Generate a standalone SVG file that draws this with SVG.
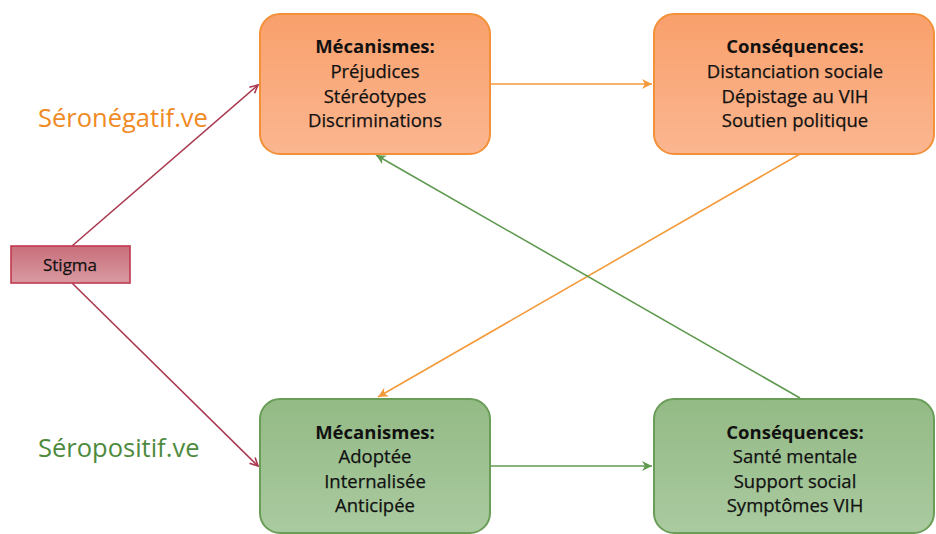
<svg xmlns="http://www.w3.org/2000/svg" width="936" height="534" viewBox="0 0 936 534">
<defs>
<linearGradient id="gOr" x1="0" y1="0" x2="0" y2="1"><stop offset="0" stop-color="#F9A06C"/><stop offset="1" stop-color="#FBB690"/></linearGradient>
<linearGradient id="gGr" x1="0" y1="0" x2="0" y2="1"><stop offset="0" stop-color="#93BA85"/><stop offset="1" stop-color="#AACAA0"/></linearGradient>
<linearGradient id="gSt" x1="0" y1="0" x2="0" y2="1"><stop offset="0" stop-color="#C86F7B"/><stop offset="1" stop-color="#D99AA1"/></linearGradient>
<marker id="aRed" markerWidth="10" markerHeight="10" refX="9" refY="5" orient="auto" markerUnits="userSpaceOnUse"><path d="M1,1 L9,5 L1,9" fill="none" stroke="#A8374F" stroke-width="1.6"/></marker>
<marker id="aOr" markerWidth="12" markerHeight="12" refX="10" refY="6" orient="auto" markerUnits="userSpaceOnUse"><path d="M0,1 L10,6 L0,11 L3,6 Z" fill="#F39A3A"/></marker>
<marker id="aGr" markerWidth="12" markerHeight="12" refX="10" refY="6" orient="auto" markerUnits="userSpaceOnUse"><path d="M0,1 L10,6 L0,11 L3,6 Z" fill="#5F9A50"/></marker>
</defs>
<style>
.or{fill:url(#gOr);stroke:#F2913A;stroke-width:2}
.gr{fill:url(#gGr);stroke:#6A9E58;stroke-width:2}
.t{font-family:"Open Sans","Liberation Sans",sans-serif;font-size:18.5px;fill:#111;text-anchor:middle;dominant-baseline:central;stroke:#111;stroke-width:0.25}
.b{font-weight:bold;stroke-width:0}
.lab{font-family:"Open Sans","Liberation Sans",sans-serif;font-size:25.5px;dominant-baseline:central}
.c{fill:none;stroke-width:1.6}
</style>
<g id="connectors">
<line class="c" x1="72" y1="246" x2="258" y2="85" stroke="#A8374F" marker-end="url(#aRed)"/>
<line class="c" x1="72" y1="283" x2="258" y2="466" stroke="#A8374F" marker-end="url(#aRed)"/>
<line class="c" x1="490" y1="84" x2="652" y2="84" stroke="#F39A3A" marker-end="url(#aOr)"/>
<line class="c" x1="490" y1="466" x2="652" y2="466" stroke="#5F9A50" marker-end="url(#aGr)"/>
<line class="c" x1="800" y1="154" x2="378" y2="397" stroke="#F39A3A" marker-end="url(#aOr)"/>
<line class="c" x1="800" y1="398" x2="376" y2="155" stroke="#5F9A50" marker-end="url(#aGr)"/>
</g>
<g id="label-seronegatif"><text class="lab" x="38" y="117" fill="#F08A24">Séronégatif.ve</text></g>
<g id="label-seropositif"><text class="lab" x="38" y="447" fill="#4E8A3E">Séropositif.ve</text></g>
<g id="stigma">
<rect x="11" y="246" width="119" height="37" fill="url(#gSt)" stroke="#C0394F" stroke-width="1.6"/>
<text class="t" x="70" y="264.5" style="font-size:17px">Stigma</text>
</g>
<g id="meca-neg">
<rect class="or" x="260" y="14" width="230" height="140" rx="20"/>
<text class="t b" x="375" y="45">Mécanismes:</text>
<text class="t" x="375" y="70">Préjudices</text>
<text class="t" x="375" y="95">Stéréotypes</text>
<text class="t" x="375" y="119">Discriminations</text>
</g>
<g id="cons-neg">
<rect class="or" x="654" y="14" width="280" height="140" rx="20"/>
<text class="t b" x="795" y="45">Conséquences:</text>
<text class="t" x="795" y="70">Distanciation sociale</text>
<text class="t" x="795" y="95">Dépistage au VIH</text>
<text class="t" x="795" y="119">Soutien politique</text>
</g>
<g id="meca-pos">
<rect class="gr" x="260" y="399" width="230" height="134" rx="20"/>
<text class="t b" x="375" y="431">Mécanismes:</text>
<text class="t" x="375" y="455">Adoptée</text>
<text class="t" x="375" y="480">Internalisée</text>
<text class="t" x="375" y="504">Anticipée</text>
</g>
<g id="cons-pos">
<rect class="gr" x="654" y="399" width="280" height="134" rx="20"/>
<text class="t b" x="795" y="431">Conséquences:</text>
<text class="t" x="795" y="455">Santé mentale</text>
<text class="t" x="795" y="480">Support social</text>
<text class="t" x="795" y="504">Symptômes VIH</text>
</g>
</svg>
